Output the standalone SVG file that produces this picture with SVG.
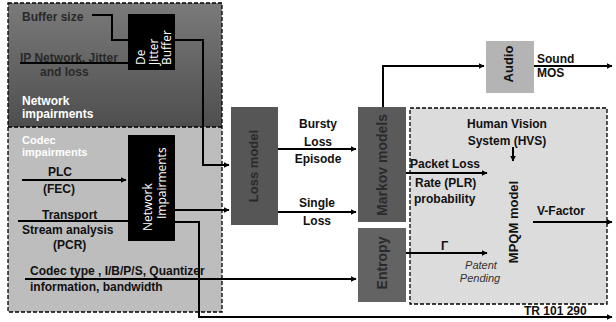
<svg xmlns="http://www.w3.org/2000/svg" width="616" height="322" viewBox="0 0 616 322">
<defs>
<marker id="ah" viewBox="0 0 10 10" refX="9" refY="5" markerWidth="6" markerHeight="6" markerUnits="userSpaceOnUse" orient="auto"><path d="M0,0 L10,5 L0,10 z" fill="#000"/></marker>
<linearGradient id="dk" x1="0" y1="0" x2="0" y2="1"><stop offset="0" stop-color="#7a7a7a"/><stop offset="1" stop-color="#4e4e4e"/></linearGradient>
</defs>
<style>
.t{font-family:"Liberation Sans",Arial,sans-serif;font-weight:bold;font-size:12px;fill:#111}
.w{fill:#fff}
.d{fill:#2a2a2a}
.bx{font-family:"Open Sans","DejaVu Sans",sans-serif;font-size:12px;fill:#fff}
.c{text-anchor:middle}
.it{font-family:"Liberation Sans",Arial,sans-serif;font-style:italic;font-size:11px;fill:#333;text-anchor:middle}
.ln{fill:none;stroke:#000;stroke-width:2}
.dash{fill:none;stroke:#000;stroke-width:1.3;stroke-dasharray:4 2}
</style>
<rect width="616" height="322" fill="#fff"/>
<g id="left-panel">
<rect x="8" y="3" width="214" height="124" fill="url(#dk)"/>
<rect x="8" y="127" width="214" height="185" fill="#bdbdbd"/>
<rect x="8" y="3" width="214" height="309" class="dash"/>
<line x1="8" y1="127" x2="222" y2="127" class="dash"/>
<text class="t d" x="22" y="21">Buffer size</text>
<text class="t d" x="20" y="62">IP Network, Jitter</text>
<text class="t d" x="40" y="76">and loss</text>
<text class="t w" x="22" y="105">Network</text>
<text class="t w" x="22" y="118">impairments</text>
<text class="t w" x="22" y="144" style="font-size:11px">Codec</text>
<text class="t w" x="22" y="156" style="font-size:11px">impairments</text>
<text class="t" x="48" y="176">PLC</text>
<text class="t" x="43" y="193">(FEC)</text>
<text class="t" x="42" y="219">Transport</text>
<text class="t" x="22" y="234">Stream analysis</text>
<text class="t" x="53" y="249">(PCR)</text>
<text class="t" x="30" y="275">Codec type , I/B/P/S, Quantizer</text>
<text class="t" x="30" y="291">information, bandwidth</text>
</g>
<g id="dejitter">
<rect x="128" y="14" width="47" height="56" fill="#000"/>
<text class="bx" transform="translate(145 65) rotate(-90)">De</text>
<text class="bx" transform="translate(158 65) rotate(-90)">Jitter</text>
<text class="bx" transform="translate(171 65) rotate(-90)">Buffer</text>
</g>
<g id="netimp">
<rect x="128" y="135" width="47" height="106" fill="#000"/>
<text class="bx" transform="translate(152 231) rotate(-90)">Network</text>
<text class="bx" transform="translate(166 219) rotate(-90)">Impairments</text>
</g>
<g id="lossmodel">
<rect x="231" y="107" width="47" height="118" fill="#565656"/>
<text class="t c d" style="font-size:13px" transform="translate(258 166) rotate(-90)">Loss model</text>
</g>
<g id="markov">
<rect x="358" y="107" width="48" height="115" fill="#5a5a5a"/>
<text class="t c d" style="font-size:14px" transform="translate(387 165) rotate(-90)">Markov models</text>
</g>
<g id="entropy">
<rect x="358" y="228" width="48" height="74" fill="#636363"/>
<text class="t c d" style="font-size:14px" transform="translate(387 263) rotate(-90)">Entropy</text>
</g>
<g id="audio">
<rect x="486" y="41" width="48" height="52" fill="#b4b4b4"/>
<text class="t c" style="font-size:13px" transform="translate(513 64) rotate(-90)">Audio</text>
</g>
<g id="hvs">
<rect x="410" y="108" width="197" height="196" fill="#dcdcdc"/>
<rect x="410" y="108" width="197" height="196" class="dash"/>
<text class="t c" x="507" y="128">Human Vision</text>
<text class="t c" x="507" y="145">System (HVS)</text>
<text class="t c" style="font-size:13px" transform="translate(518 222) rotate(-90)">MPQM model</text>
<text class="it" x="481" y="269">Patent</text>
<text class="it" x="480" y="282">Pending</text>
</g>
<g id="connectors">
<polyline class="ln" points="92,15 112,15 112,40 128,40"/>
<line class="ln" x1="20" y1="63" x2="128" y2="63"/>
<polyline class="ln" points="175,40 203,40 203,165 229,165" marker-end="url(#ah)"/>
<line class="ln" x1="22" y1="180" x2="126" y2="180" marker-end="url(#ah)"/>
<line class="ln" x1="175" y1="210" x2="229" y2="210" marker-end="url(#ah)"/>
<line class="ln" x1="18" y1="221" x2="128" y2="221"/>
<polyline class="ln" points="175,222 199,222 199,317 612,317" marker-end="url(#ah)"/>
<line class="ln" x1="25" y1="279" x2="356" y2="279" marker-end="url(#ah)"/>
<line class="ln" x1="278" y1="149" x2="356" y2="149" marker-end="url(#ah)"/>
<line class="ln" x1="278" y1="212" x2="356" y2="212" marker-end="url(#ah)"/>
<polyline class="ln" points="383,107 383,66 484,66" marker-end="url(#ah)"/>
<line class="ln" x1="534" y1="66" x2="612" y2="66" marker-end="url(#ah)"/>
<line class="ln" x1="406" y1="173" x2="487" y2="173" marker-end="url(#ah)"/>
<line class="ln" x1="406" y1="253" x2="487" y2="253" marker-end="url(#ah)"/>
<line class="ln" x1="513" y1="147" x2="513" y2="161" marker-end="url(#ah)"/>
<line class="ln" x1="533" y1="222" x2="612" y2="222" marker-end="url(#ah)"/>
</g>
<g id="labels">
<text class="t c" x="318" y="128">Bursty</text>
<text class="t c" x="318" y="146">Loss</text>
<text class="t c" x="318" y="163">Episode</text>
<text class="t c" x="317" y="207">Single</text>
<text class="t c" x="317" y="225">Loss</text>
<text class="t" x="410" y="168">Packet Loss</text>
<text class="t" x="415" y="187">Rate (PLR)</text>
<text class="t" x="414" y="203">probability</text>
<text class="t" x="441" y="250">Γ</text>
<text class="t" x="537" y="215">V-Factor</text>
<text class="t" x="537" y="63">Sound</text>
<text class="t" x="537" y="77">MOS</text>
<text class="t" x="524" y="315">TR 101 290</text>
</g>
</svg>
